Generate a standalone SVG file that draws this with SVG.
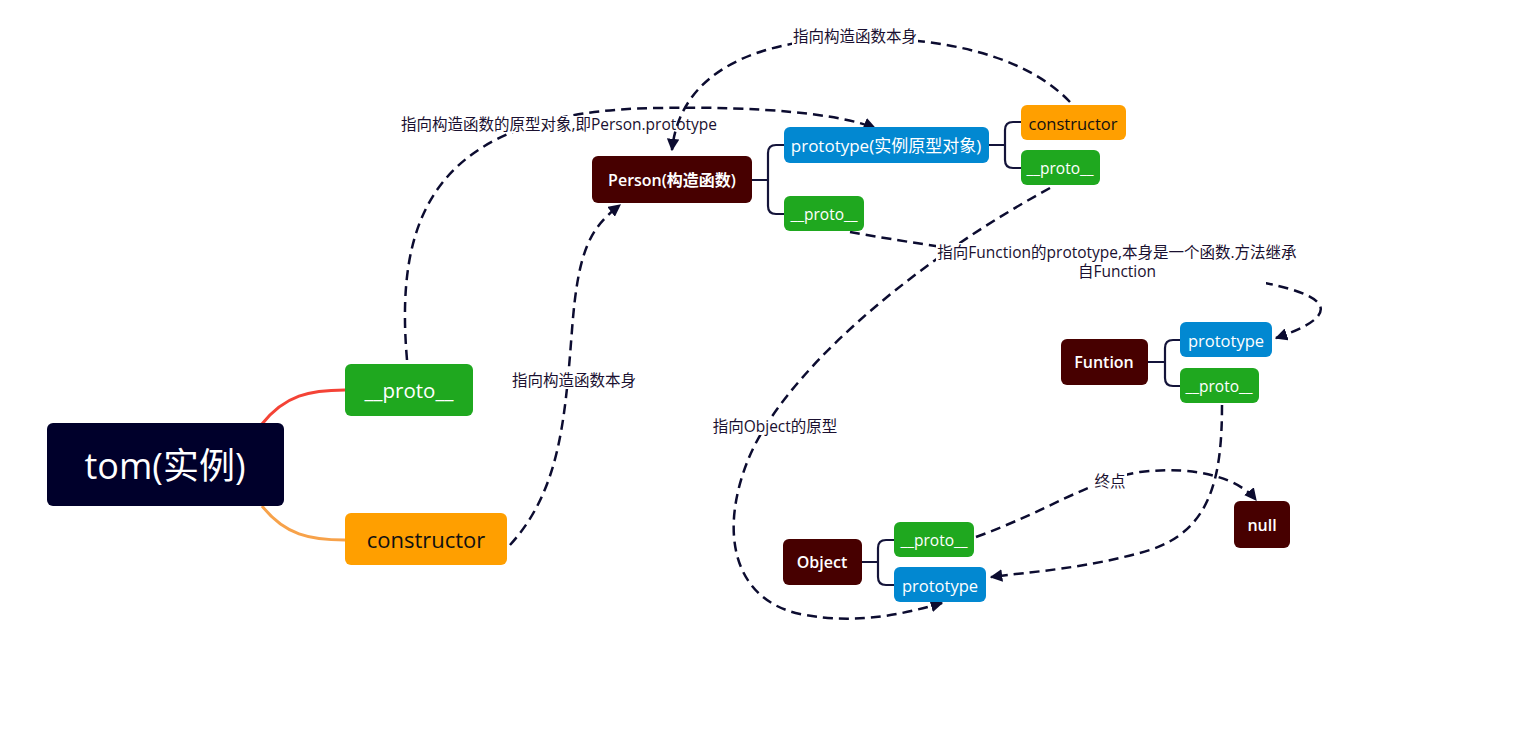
<svg xmlns="http://www.w3.org/2000/svg" width="1521" height="731" viewBox="0 0 1521 731">
  <style>
    .box { stroke: none; }
    .root { fill: #00002b; }
    .fn { fill: #470000; }
    .proto { fill: #1fa81f; }
    .ptype { fill: #0288d1; }
    .ctor { fill: #ff9f00; }
    .t { font-family: "Open Sans", "Noto Sans CJK SC", sans-serif; text-anchor: middle; dominant-baseline: central; }
    .w { fill: #ffffff; }
    .k { fill: #111111; }
    .b { font-weight: 600; }
    .branch { fill: none; stroke: #14143a; stroke-width: 2.2; }
    .link { fill: none; stroke: #0c0c30; stroke-width: 2.5; stroke-dasharray: 10 6; }
    .lbl { font-family: "Open Sans", "Noto Sans CJK SC", sans-serif; font-size: 15.5px; fill: #1a1030; text-anchor: middle; dominant-baseline: central; }
    .lblbg { fill: #ffffff; }
  </style>
  <defs>
    <marker id="arr" viewBox="0 0 10 10" refX="9" refY="5" markerWidth="5" markerHeight="5" orient="auto" markerUnits="strokeWidth">
      <path d="M0,0 L10,5 L0,10 Z" fill="#0c0c30"/>
    </marker>
  </defs>

  <rect width="1521" height="731" fill="#ffffff"/>

  <!-- tree branches -->
  <g id="branches">
    <path d="M262,424 C285,395 310,390 345,390" fill="none" stroke="#f44336" stroke-width="3"/>
    <path d="M262,506 C285,535 310,540 345,540" fill="none" stroke="#f7a24a" stroke-width="3"/>
    <path class="branch" d="M752,180 H768 M784,145 H776 Q768,145 768,153 V206 Q768,214 776,214 H784"/>
    <path class="branch" d="M989,145 H1005 M1021,122 H1013 Q1005,122 1005,130 V160 Q1005,168 1013,168 H1021"/>
    <path class="branch" d="M1148,362 H1165 M1180,340 H1173 Q1165,340 1165,348 V378 Q1165,386 1173,386 H1180"/>
    <path class="branch" d="M862,562 H878 M894,540 H886 Q878,540 878,548 V577 Q878,585 886,585 H894"/>
  </g>

  <!-- dashed relations -->
  <g id="connectors">
    <path class="link" d="M407,360 C395,220 430,110 660,108 C760,106 840,114 875,128" marker-end="url(#arr)"/>
    <path class="link" d="M510,545 C560,490 565,420 572,330 C578,250 590,228 620,205" marker-end="url(#arr)"/>
    <path class="link" d="M1070,102 C1020,50 930,38 860,38 C760,38 680,70 672,150" marker-end="url(#arr)"/>
    <path class="link" d="M850,232 C950,250 1100,270 1265,283 C1340,298 1335,318 1276,338" marker-end="url(#arr)"/>
    <path class="link" d="M1050,188 C900,270 780,380 748,460 C718,535 735,600 800,614 C860,626 910,612 942,603" marker-end="url(#arr)"/>
    <path class="link" d="M976,537 C1050,510 1090,480 1140,472 C1200,465 1240,480 1256,500" marker-end="url(#arr)"/>
    <path class="link" d="M1222,405 C1222,480 1210,530 1150,550 C1090,568 1030,572 991,577" marker-end="url(#arr)"/>
  </g>

  <!-- relation labels -->
  <g id="labels">
    <rect class="lblbg" x="400" y="116" width="200" height="17"/>
    <text class="lbl" x="559" y="124">指向构造函数的原型对象,即Person.prototype</text>
    <rect class="lblbg" x="511" y="371" width="126" height="18"/>
    <text class="lbl" x="574" y="380">指向构造函数本身</text>
    <rect class="lblbg" x="792" y="27" width="126" height="18"/>
    <text class="lbl" x="855" y="36">指向构造函数本身</text>
    <rect class="lblbg" x="936" y="243" width="330" height="42"/>
    <rect class="lblbg" x="1266" y="243" width="34" height="38"/>
    <text class="lbl" x="1117" y="252">指向Function的prototype,本身是一个函数.方法继承</text>
    <text class="lbl" x="1117" y="271">自Function</text>
    <rect class="lblbg" x="711" y="417" width="128" height="18"/>
    <text class="lbl" x="775" y="426">指向Object的原型</text>
    <rect class="lblbg" x="1093" y="472" width="34" height="18"/>
    <text class="lbl" x="1110" y="481">终点</text>
  </g>

  <g id="tom">
    <rect class="box root" x="47" y="423" width="237" height="83" rx="6"/>
    <text class="t w" x="165" y="465" font-size="36">tom(实例)</text>
  </g>
  <g id="tom-proto">
    <rect class="box proto" x="345" y="364" width="128" height="52" rx="6"/>
    <text class="t w" x="409" y="390" font-size="20.5">__proto__</text>
  </g>
  <g id="tom-constructor">
    <rect class="box ctor" x="345" y="513" width="162" height="52" rx="6"/>
    <text class="t k" x="426" y="539" font-size="22">constructor</text>
  </g>

  <g id="person">
    <rect class="box fn" x="592" y="156" width="160" height="47" rx="6"/>
    <text class="t w b" x="672" y="180" font-size="16">Person(构造函数)</text>
  </g>
  <g id="person-prototype">
    <rect class="box ptype" x="784" y="127" width="205" height="36" rx="6"/>
    <text class="t w" x="886" y="145" font-size="17">prototype(实例原型对象)</text>
  </g>
  <g id="person-proto">
    <rect class="box proto" x="784" y="196" width="80" height="35" rx="6"/>
    <text class="t w" x="824" y="214" font-size="15.5">__proto__</text>
  </g>
  <g id="prototype-constructor">
    <rect class="box ctor" x="1021" y="105" width="105" height="35" rx="6"/>
    <text class="t k" x="1073" y="123" font-size="16.5">constructor</text>
  </g>
  <g id="prototype-proto">
    <rect class="box proto" x="1021" y="150" width="79" height="35" rx="6"/>
    <text class="t w" x="1060" y="168" font-size="15.5">__proto__</text>
  </g>

  <g id="funtion">
    <rect class="box fn" x="1061" y="339" width="87" height="46" rx="6"/>
    <text class="t w b" x="1104" y="362" font-size="16">Funtion</text>
  </g>
  <g id="funtion-prototype">
    <rect class="box ptype" x="1180" y="322" width="92" height="35" rx="6"/>
    <text class="t w" x="1226" y="340" font-size="16.5">prototype</text>
  </g>
  <g id="funtion-proto">
    <rect class="box proto" x="1180" y="368" width="79" height="35" rx="6"/>
    <text class="t w" x="1219" y="386" font-size="15.5">__proto__</text>
  </g>

  <g id="object">
    <rect class="box fn" x="783" y="539" width="79" height="46" rx="6"/>
    <text class="t w b" x="822" y="562" font-size="16">Object</text>
  </g>
  <g id="object-proto">
    <rect class="box proto" x="894" y="522" width="80" height="35" rx="6"/>
    <text class="t w" x="934" y="540" font-size="15.5">__proto__</text>
  </g>
  <g id="object-prototype">
    <rect class="box ptype" x="894" y="567" width="92" height="35" rx="6"/>
    <text class="t w" x="940" y="585" font-size="16.5">prototype</text>
  </g>

  <g id="null">
    <rect class="box fn" x="1234" y="501" width="56" height="47" rx="6"/>
    <text class="t w b" x="1262" y="525" font-size="16">null</text>
  </g>
</svg>
